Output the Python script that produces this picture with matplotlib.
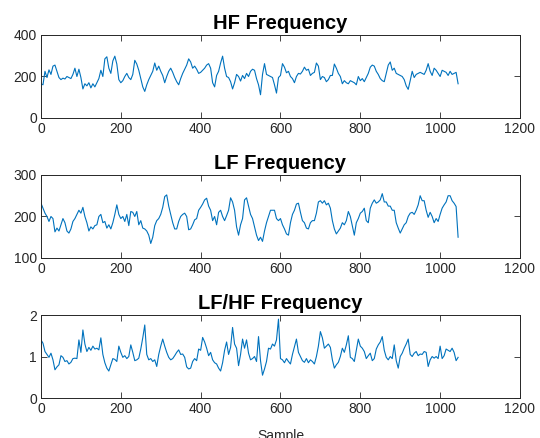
import numpy as np
import matplotlib
matplotlib.use("Agg")
import matplotlib.pyplot as plt

# sample index, one value every 5 samples
samples = np.arange(0, 1050, 5)

hf = [
    165, 160, 225, 195, 232, 210, 250, 255, 225, 195,
    185, 192, 188, 200, 195, 190, 210, 240, 200, 235,
    195, 140, 165, 155, 170, 145, 165, 150, 170, 190,
    230, 200, 285, 295, 240, 215, 275, 298, 260, 185,
    170, 180, 200, 215, 195, 185, 210, 278, 260, 230,
    190, 150, 128, 160, 185, 205, 225, 265, 230, 250,
    225, 205, 170, 200, 225, 240, 220, 195, 175, 160,
    190, 215, 235, 255, 285, 270, 240, 250, 235, 215,
    220, 230, 240, 255, 262, 240, 170, 150, 205, 225,
    265, 298, 240, 200, 195, 175, 140, 170, 210, 200,
    178, 205, 190, 215, 200, 225, 235, 230, 190, 160,
    112, 210, 262, 210, 205, 200, 195, 160, 120, 195,
    205, 262, 245, 218, 225, 200, 190, 170, 200, 215,
    212, 225, 245, 230, 235, 205, 215, 220, 265, 250,
    185, 200, 195, 175, 185, 205, 205, 260, 240, 215,
    200, 165, 180, 170, 165, 180, 175, 170, 160, 200,
    180, 190, 175, 195, 215, 245, 255, 250, 225, 210,
    190, 180, 175, 215, 255, 270, 230, 240, 215, 210,
    205, 200, 185, 155, 138, 180, 225, 195, 210, 215,
    220, 215, 210, 230, 262, 225, 205, 240, 230, 215,
    200, 230, 225, 220, 205, 225, 210, 215, 220, 165,
]

lf = [
    232, 220, 208, 200, 188, 200, 195, 163, 172, 165,
    180, 195, 185, 165, 160, 170, 188, 195, 205, 215,
    208, 222, 200, 185, 165, 175, 170, 178, 180, 200,
    205, 185, 188, 172, 180, 170, 185, 205, 228, 205,
    195, 200, 188, 205, 178, 212, 210, 200, 212, 180,
    190, 172, 170, 165, 155, 135, 150, 178, 190, 195,
    205, 222, 248, 252, 225, 205, 185, 170, 170, 188,
    200, 205, 208, 200, 168, 170, 180, 192, 195, 215,
    222, 230, 240, 244, 225, 215, 190, 200, 180, 210,
    215, 200, 190, 202, 215, 245, 235, 215, 175, 155,
    180, 195, 240, 245, 225, 205, 195, 175, 155, 142,
    150, 140, 165, 185, 200, 215, 215, 215, 195, 190,
    195, 180, 170, 158, 155, 185, 205, 215, 230, 232,
    210, 190, 185, 172, 170, 185, 190, 190, 208, 235,
    238, 232, 238, 228, 232, 220, 190, 170, 158, 165,
    172, 185, 180, 190, 212, 200, 178, 155, 185, 195,
    208, 212, 220, 190, 185, 220, 232, 240, 232, 235,
    240, 255, 235, 235, 225, 225, 215, 215, 185, 172,
    160, 170, 180, 185, 200, 208, 210, 205, 215, 228,
    250, 238, 238, 215, 198, 210, 200, 185, 195, 188,
    205, 220, 228, 235, 250, 250, 238, 232, 224, 150,
]

ratio = [
    1.40, 1.32, 1.12, 1.05, 0.98, 1.08, 0.92, 0.68, 0.75, 0.80,
    1.02, 0.98, 0.88, 0.90, 0.82, 0.86, 0.95, 0.96, 0.95, 1.40,
    1.10, 1.64, 1.30, 1.12, 1.22, 1.15, 1.25, 1.18, 1.20, 1.16,
    1.45, 1.05, 0.85, 0.72, 0.65, 0.80, 0.95, 0.93, 0.88, 1.25,
    1.10, 0.98, 1.02, 0.95, 1.00, 1.28, 1.10, 0.90, 0.92, 0.96,
    1.18, 1.45, 1.76, 1.05, 0.92, 0.95, 0.88, 0.92, 0.76, 1.05,
    1.25, 1.42, 1.25, 1.10, 0.98, 0.92, 0.95, 1.02, 1.10, 1.16,
    1.05, 1.06, 0.98, 0.75, 0.70, 0.72, 0.88, 0.95, 0.90, 1.18,
    1.15, 1.46, 1.35, 1.20, 1.02, 1.10, 0.92, 0.85, 0.82, 0.72,
    0.65, 0.85, 1.15, 1.35, 1.05, 1.22, 1.70, 1.30, 1.20, 0.78,
    1.05, 1.42, 1.20, 1.40, 1.08, 0.92, 0.95, 1.00, 0.88, 1.48,
    0.90, 0.55, 0.70, 0.88, 1.20, 1.18, 1.30, 1.25, 1.40, 1.90,
    0.95, 0.92, 0.85, 0.95, 0.88, 0.82, 1.05, 1.24, 1.42, 1.10,
    1.00, 0.90, 0.86, 0.95, 0.85, 0.92, 0.88, 0.82, 1.00, 1.25,
    1.60, 1.45, 1.20, 1.25, 1.30, 1.22, 0.92, 0.72, 0.80, 0.86,
    1.00, 1.20, 1.10, 1.28, 1.50, 0.98, 0.95, 0.88, 1.15, 1.42,
    1.25, 1.20, 1.12, 0.95, 1.02, 1.08, 0.90, 0.95, 1.18, 1.28,
    1.35, 1.48, 1.15, 0.98, 0.92, 1.00, 0.95, 1.28, 0.90, 0.72,
    1.00, 1.08, 1.20, 1.30, 1.42, 1.05, 1.00, 1.08, 1.12, 1.02,
    1.06, 1.05, 1.12, 1.10, 0.76, 0.92, 1.00, 0.96, 1.00, 0.95,
    1.25, 0.95, 1.02, 1.18, 1.15, 1.12, 1.20, 1.10, 0.90, 0.98,
]

titles = ["HF Frequency", "LF Frequency", "LF/HF Frequency"]
series = [hf, lf, ratio]
ylims = [(0, 400), (100, 300), (0, 2)]
yticks = [[0, 200, 400], [100, 200, 300], [0, 1, 2]]
xticks = [0, 200, 400, 600, 800, 1000, 1200]

plt.rcParams["font.family"] = ["Liberation Sans", "DejaVu Sans"]

fig = plt.figure(figsize=(5.4, 4.38), dpi=100)

# axes boxes in figure fractions (left, bottom, width, height)
bottoms = [0.7306, 0.411, 0.0913]
for i in range(3):
    ax = fig.add_axes([0.0759, bottoms[i], 0.887, 0.1895])
    ax.plot(samples, series[i], color="#0072BD", linewidth=0.8)
    ax.set_xlim(0, 1200)
    ax.set_ylim(*ylims[i])
    ax.set_xticks(xticks)
    ax.set_yticks(yticks[i])
    ax.tick_params(direction="in", length=4, width=0.6, top=True, right=True,
                   labelsize=10, colors="#262626", pad=3)
    for sp in ax.spines.values():
        sp.set_linewidth(0.7)
        sp.set_color("#262626")
    ax.set_title(titles[i], fontsize=14.5, fontweight="bold", pad=4)
    if i == 2:
        ax.set_xlabel("Sample", fontsize=10, color="#262626", labelpad=9)

fig.savefig("out.png", dpi=100)
